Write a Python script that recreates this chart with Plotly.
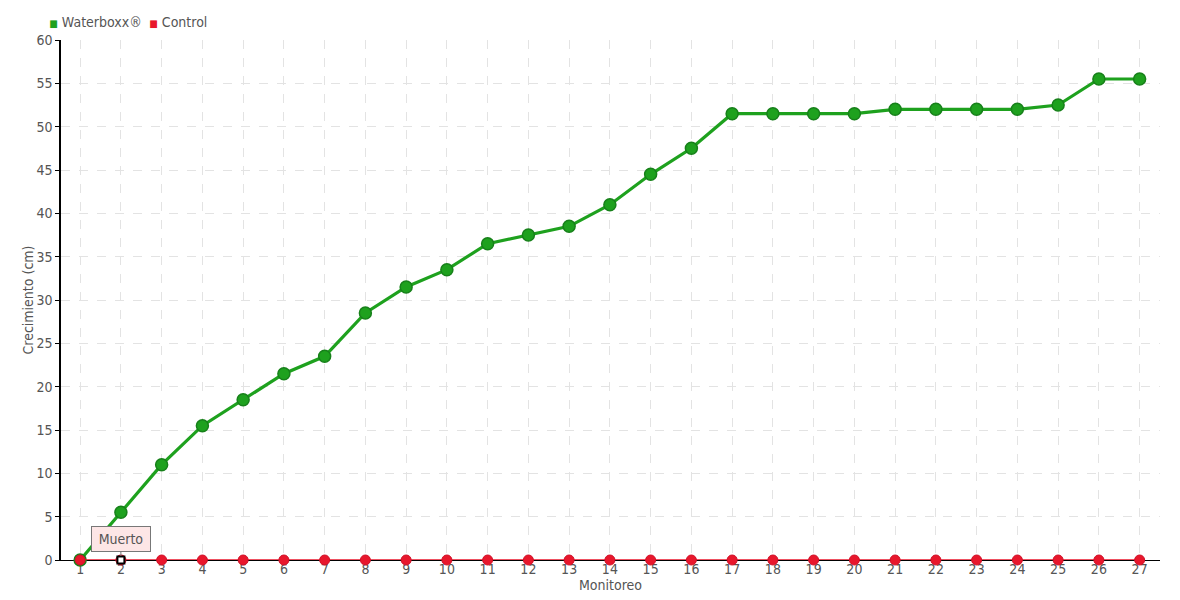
import plotly.graph_objects as go

monitoreo = list(range(1, 28))
waterboxx = [0, 5.5, 11, 15.5, 18.5, 21.5, 23.5, 28.5, 31.5, 33.5, 36.5, 37.5, 38.5, 41,
             44.5, 47.5, 51.5, 51.5, 51.5, 51.5, 52, 52, 52, 52, 52.5, 55.5, 55.5]
control = [0] * 27
y_ticks = list(range(0, 61, 5))

FONT = "DejaVu Sans Condensed, Roboto, sans-serif"
GREEN = "#1ea11e"
GREEN_DARK = "#17801a"
RED = "#e8172c"
TXT = "#555555"
F = dict(family=FONT, size=14, color=TXT, weight=300)

fig = go.Figure()
fig.add_trace(go.Scatter(
    x=monitoreo, y=waterboxx, mode="lines+markers", name="Waterboxx®",
    line=dict(color=GREEN, width=3.2),
    marker=dict(size=12, color=GREEN, line=dict(color=GREEN_DARK, width=1.5)),
    cliponaxis=False, showlegend=False))
fig.add_trace(go.Scatter(
    x=monitoreo, y=control, mode="lines+markers", name="Control",
    line=dict(color=RED, width=1.5),
    marker=dict(size=10, color=RED, line=dict(color="#d01028", width=1)),
    cliponaxis=False, showlegend=False))
# hovered point highlight
fig.add_trace(go.Scatter(
    x=[monitoreo[1]], y=[control[1]], mode="markers", showlegend=False, cliponaxis=False,
    marker=dict(size=7, symbol="square", color="white", line=dict(color="black", width=2))))
# legend entries (coloured square drawn in the label, tight like the original)
fig.add_trace(go.Scatter(x=[None], y=[None], mode="markers",
                         name=f"<span style='color:{GREEN};font-size:10px'>■</span> Waterboxx®",
                         marker=dict(symbol="square", size=1, color="rgba(0,0,0,0)")))
fig.add_trace(go.Scatter(x=[None], y=[None], mode="markers",
                         name=f"<span style='color:{RED};font-size:10px'>■</span> Control",
                         marker=dict(symbol="square", size=1, color="rgba(0,0,0,0)")))
fig.add_trace(go.Scatter(x=[None], y=[None], mode="markers", name=" ",
                         marker=dict(symbol="square", size=1, color="rgba(0,0,0,0)")))

fig.add_annotation(
    x=monitoreo[1], y=control[1], text="Muerto", showarrow=True,
    ax=0, ay=-21, arrowhead=0, arrowwidth=1, arrowcolor="#777777", standoff=4,
    width=56, height=22,
    bgcolor="#fde6e6", bordercolor="#777777", borderwidth=1, borderpad=1,
    font=F)

# the page body adds an 8px offset; margins compensate so the plot area lands at 61..1160 x 40..560
fig.update_layout(
    width=1180, height=600,
    margin=dict(l=53, r=28, t=32, b=48, autoexpand=False),
    paper_bgcolor="white", plot_bgcolor="white",
    font=F,
    legend=dict(orientation="h", x=-0.047, xanchor="left", y=1.035, yanchor="middle",
                font=F, itemwidth=30, entrywidth=55, entrywidthmode="pixels",
                tracegroupgap=0, bgcolor="rgba(0,0,0,0)"),
    hovermode="closest",
)
fig.update_xaxes(
    range=[0.53, 27.5], tickmode="array", tickvals=monitoreo,
    ticktext=[str(m) for m in monitoreo],
    showline=True, linecolor="black", linewidth=1, layer="below traces",
    ticks="", automargin=False, ticklabelstandoff=-4,
    showgrid=True, gridcolor="#e3e3e3", griddash="dash", gridwidth=1,
    zeroline=False,
    title=dict(text="Monitoreo", standoff=0, font=F),
    tickfont=F)
fig.update_yaxes(
    range=[0, 60], tickmode="array", tickvals=y_ticks,
    showline=True, linecolor="black", linewidth=1.5, layer="below traces",
    ticks="outside", ticklen=4, tickcolor="black", automargin=False,
    showgrid=True, gridcolor="#e3e3e3", griddash="dash", gridwidth=1,
    zeroline=False,
    title=dict(text="Crecimiento (cm)", standoff=0, font=F),
    tickfont=F)

fig.write_html("out.html")
